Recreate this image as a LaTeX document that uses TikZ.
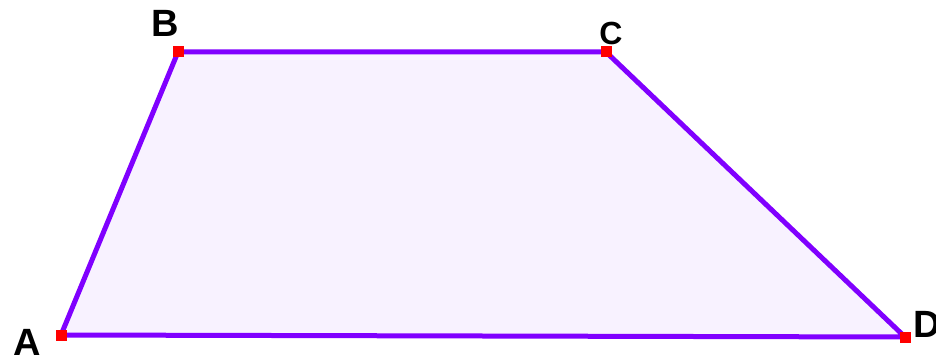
\documentclass[tikz,border=0pt]{standalone}
\usepackage{fontspec}
\setmainfont{Liberation Sans}
\definecolor{edgec}{RGB}{128,0,255}
\definecolor{fillc}{RGB}{248,242,255}
\begin{document}
\begin{tikzpicture}[x=1pt,y=-1pt,
  vtx/.style={fill=red,minimum size=11pt,inner sep=0pt,outer sep=0pt},
  lbl/.style={font=\bfseries\fontsize{38}{38}\selectfont,inner sep=0pt}]
\useasboundingbox (0,0) rectangle (936,363);
\coordinate (a) at (61,335);
\coordinate (b) at (178,52);
\coordinate (c) at (606,52);
\coordinate (d) at (905,337);
\fill[fillc] (a) -- (b) -- (c) -- (d) -- cycle;
\draw[edgec,line width=5pt,line join=round] (a) -- (b) -- (c) -- (d) -- cycle;
\node[vtx] (A) at (a) {};
\node[vtx] (B) at (b) {};
\node[vtx] (C) at (c) {};
\node[vtx] (D) at (d) {};
\node[lbl] (lA) at (27,342) {A};
\node[lbl] (lB) at (165,23) {B};
\node[lbl,font=\bfseries\fontsize{32}{32}\selectfont] (lC) at (611,33) {C};
\node[lbl,anchor=west] (lD) at (913,324) {D};
\end{tikzpicture}
\end{document}
